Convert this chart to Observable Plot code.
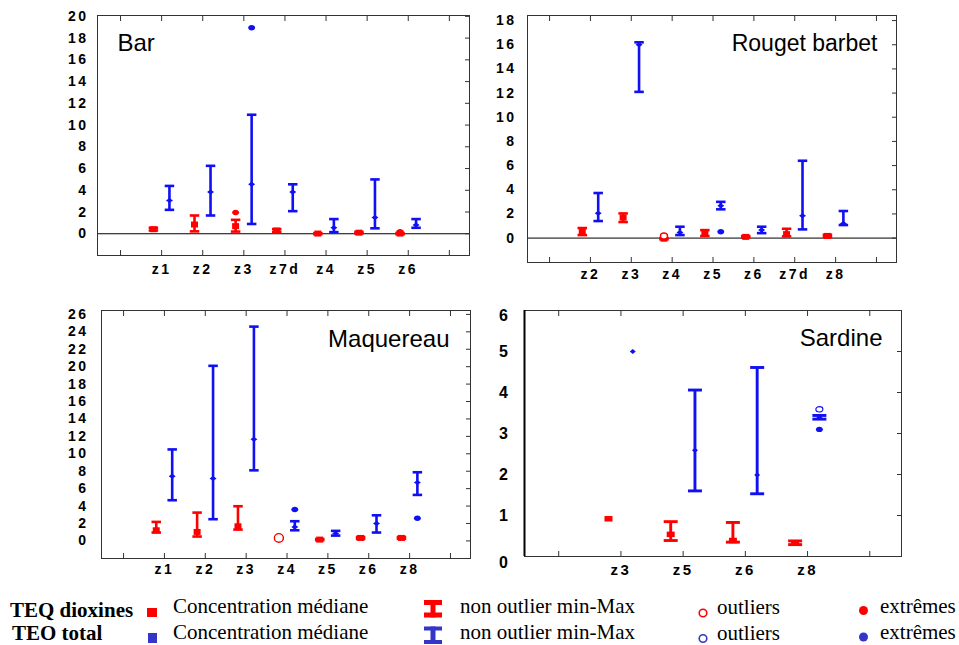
<!DOCTYPE html>
<html><head><meta charset="utf-8">
<script src="https://cdn.jsdelivr.net/npm/d3@7"></script>
<script src="https://cdn.jsdelivr.net/npm/@observablehq/plot@0.6"></script>
<style>
html,body{margin:0;padding:0;background:#fff;}
#wrap{position:relative;width:959px;height:645px;overflow:hidden;background:#fff;}
#wrap > svg{position:absolute;}
g[aria-label="x-axis tick label"] text, g[aria-label="y-axis tick label"] text{letter-spacing:2.5px;}
</style></head><body><div id="wrap"></div>
<script>
// ---------- DATA ----------
// Bar
const barZones = ["z1","z2","z3","z7d","z4","z5","z6"];
const barDioxMed = [0.42, 0.85, 0.7, 0.3, 0.02, 0.1, 0.02];
const barDioxMin = [0.3, 0.22, 0.2, 0.17, -0.04, 0.03, -0.04];
const barDioxMax = [0.55, 1.68, 1.28, 0.43, 0.06, 0.17, 0.06];
const barTotMed = [3.05, 3.85, 4.55, 3.85, 0.55, 1.5, 0.8];
const barTotMin = [2.2, 1.68, 0.9, 2.08, 0.15, 0.5, 0.55];
const barTotMax = [4.4, 6.25, 10.95, 4.55, 1.35, 5.0, 1.35];
const barDioxExtZones = ["z3","z6"], barDioxExtValues = [1.95, 0.2];
const barTotExtZones = ["z3"], barTotExtValues = [18.95];
const barYTicks = [0,2,4,6,8,10,12,14,16,18,20];

// Rouget barbet
const rbZones = ["z2","z3","z4","z5","z6","z7d","z8"];
const rbDioxMed = [0.5, 1.7, -0.05, 0.4, 0.1, 0.33, 0.18];
const rbDioxMin = [0.25, 1.33, -0.1, 0.17, 0.04, 0.14, 0.08];
const rbDioxMax = [0.83, 2.04, 0.0, 0.66, 0.17, 0.77, 0.28];
const rbTotMed = [2.05, 16.0, 0.47, 2.68, 0.66, 1.85, 1.2];
const rbTotMin = [1.41, 12.1, 0.25, 2.38, 0.41, 0.72, 1.08];
const rbTotMax = [3.73, 16.2, 0.94, 3.0, 0.94, 6.4, 2.24];
const rbDioxOutZones = ["z4"], rbDioxOutValues = [0.17];
const rbTotExtZones = ["z5"], rbTotExtValues = [0.52];
const rbYTicks = [0,2,4,6,8,10,12,14,16,18];

// Maquereau
const mqZones = ["z1","z2","z3","z4","z5","z6","z8"];
const mqDioxMed = [1.22, 1.03, 1.68, null, 0.15, 0.34, 0.34];
const mqDioxMin = [0.96, 0.5, 1.3, 0.33, 0.08, 0.22, 0.24];
const mqDioxMax = [2.18, 3.25, 3.98, 0.33, 0.22, 0.45, 0.45];
const mqTotMed = [7.42, 7.15, 11.66, 1.6, 0.84, 1.99, 6.7];
const mqTotMin = [4.67, 2.49, 8.1, 1.22, 0.61, 0.96, 5.28];
const mqTotMax = [10.5, 20.1, 24.6, 2.26, 1.15, 2.94, 7.88];
const mqDioxOutZones = ["z4"], mqDioxOutValues = [0.34];
const mqTotExtZones = ["z4","z8"], mqTotExtValues = [3.6, 2.6];
const mqYTicks = [0,2,4,6,8,10,12,14,16,18,20,22,24,26];

// Sardine
const sdZones = ["z3","z5","z6","z8"];
const sdDioxMed = [0.92, 0.54, 0.39, 0.33];
const sdDioxMin = [null, 0.39, 0.35, 0.29];
const sdDioxMax = [null, 0.85, 0.83, 0.38];
const sdTotMed = [5.0, 2.59, 1.99, 3.39];
const sdTotMin = [null, 1.6, 1.53, 3.35];
const sdTotMax = [null, 4.06, 4.61, 3.44];
const sdTotOutZones = ["z8"], sdTotOutValues = [3.59];
const sdTotExtZones = ["z8"], sdTotExtValues = [3.1];
const sdYTicks = [0,1,2,3,4,5,6];

// Legend
const legendSeries = ["TEQ dioxines", "TEO total"];
const legendItems = ["Concentration médiane", "non outlier min-Max", "outliers", "extrêmes"];

// ---------- DRAWING ----------
const RED = "#ff0000", BLUE = "#1010f2", LBLUE = "#3535c8";
const OFF_D = -0.2, OFF_T = 0.19;
const wrap = document.getElementById("wrap");

const capSym = w => ({draw(c){ c.moveTo(-w/2,0); c.lineTo(w/2,0); }});
const rectSym = (w,h) => ({draw(c){ c.moveTo(-w/2,-h/2); c.lineTo(w/2,-h/2); c.lineTo(w/2,h/2); c.lineTo(-w/2,h/2); c.closePath(); }});
const diaSym = (w,h) => ({draw(c){ c.moveTo(-w/2,0); c.lineTo(0,-h/2); c.lineTo(w/2,0); c.lineTo(0,h/2); c.closePath(); }});
const ellSym = (rx,ry) => ({draw(c){ const k=0.5523;
  c.moveTo(rx,0);
  c.bezierCurveTo(rx,ry*k,rx*k,ry,0,ry);
  c.bezierCurveTo(-rx*k,ry,-rx,ry*k,-rx,0);
  c.bezierCurveTo(-rx,-ry*k,-rx*k,-ry,0,-ry);
  c.bezierCurveTo(rx*k,-ry,rx,-ry*k,rx,0);
  c.closePath(); }});

const toRows = (zones, med, min, max, off) => zones.map((z,i) => ({x: i+1+off, med: med[i], min: min[i], max: max[i]}));
const toPts = (zones, pz, pv, off) => pz.map((z,j) => ({x: zones.indexOf(z)+1+off, v: pv[j]}));

function drawPanel(c) {
  const n = c.zones.length;
  const xTicks = d3.range(0, n+2);
  const xLabels = ["", ...c.zones, ""];
  const dRows = toRows(c.zones, c.dMed, c.dMin, c.dMax, OFF_D);
  const tRows = toRows(c.zones, c.tMed, c.tMin, c.tMax, OFF_T);
  const cap = capSym(c.capW);
  const marks = [];
  if (c.zero) marks.push(Plot.ruleY([0], {stroke:"#000", strokeWidth:1}));
  for (const [rows, color, med] of [[dRows, RED, c.sq], [tRows, BLUE, c.dia]]) {
    const w = rows.filter(d => d.min != null);
    marks.push(
      Plot.ruleX(w, {x:"x", y1:"min", y2:"max", stroke:color, strokeWidth:c.sw}),
      Plot.dot(w, {x:"x", y:"min", symbol:cap, stroke:color, strokeWidth:c.sw, fill:"none"}),
      Plot.dot(w, {x:"x", y:"max", symbol:cap, stroke:color, strokeWidth:c.sw, fill:"none"}),
      Plot.dot(rows.filter(d => d.med != null), {x:"x", y:"med", symbol:med, fill:color, stroke:"none"})
    );
  }
  const ext = ellSym(3.5, 2.7);
  const out = ellSym(c.outRx, c.outRy);
  if (c.dExt) marks.push(Plot.dot(toPts(c.zones, c.dExt[0], c.dExt[1], OFF_D), {x:"x", y:"v", symbol:ext, fill:RED, stroke:"none"}));
  if (c.tExt) marks.push(Plot.dot(toPts(c.zones, c.tExt[0], c.tExt[1], OFF_T), {x:"x", y:"v", symbol:ext, fill:BLUE, stroke:"none"}));
  if (c.dOut) marks.push(Plot.dot(toPts(c.zones, c.dOut[0], c.dOut[1], OFF_D), {x:"x", y:"v", symbol:out, fill:"white", stroke:RED, strokeWidth:1.4}));
  if (c.tOut) marks.push(Plot.dot(toPts(c.zones, c.tOut[0], c.tOut[1], OFF_T), {x:"x", y:"v", symbol:out, fill:"white", stroke:BLUE, strokeWidth:1.2}));

  marks.push(Plot.frame({stroke:"#333"}));
  if (c.thickLeft) marks.push(Plot.ruleX([c.xDomain[0]], {stroke:"#000", strokeWidth:2}));
  // inward tick marks on bottom, top, right
  marks.push(
    Plot.axisX({anchor:"bottom", ticks:xTicks, tickSize:5, dy:-5, tickFormat:() => "", stroke:"#333"}),
    Plot.axisX({anchor:"top", ticks:xTicks, tickSize:5, dy:5, tickFormat:() => "", stroke:"#333"}),
    Plot.axisY({anchor:"right", ticks:c.yTicks, tickSize:5, dx:-5, tickFormat:() => "", stroke:"#333"}),
    Plot.axisX({anchor:"bottom", ticks:xTicks, tickSize:0, tickPadding:c.xPad, tickFormat:i => xLabels[i], fontSize:c.xFont, fontWeight:"bold"})
  );
  // y tick labels (edge labels may be nudged inward as in the reference)
  const shift = c.yShift || {};
  const plain = c.yTicks.filter(t => !(t in shift));
  marks.push(Plot.axisY({anchor:"left", ticks:plain, tickSize:0, tickPadding:c.yPad, tickFormat:d => String(d), fontSize:c.yFont, fontWeight:"bold"}));
  for (const t of Object.keys(shift)) {
    marks.push(Plot.axisY({anchor:"left", ticks:[+t], tickSize:0, tickPadding:c.yPad, dy:shift[t], tickFormat:d => String(d), fontSize:c.yFont, fontWeight:"bold"}));
  }
  marks.push(
    Plot.text([c.title], {frameAnchor:c.titleAnchor, textAnchor:c.titleAnchor === "top-left" ? "start" : "end", lineAnchor:"bottom", dx:c.titleDx, dy:c.titleDy, fontSize:c.titleSize, fontWeight:"normal", fill:"#000"})
  );

  const svg = Plot.plot({
    width:c.width, height:c.height,
    marginLeft:c.m[0], marginRight:c.m[1], marginTop:c.m[2], marginBottom:c.m[3],
    x:{type:"linear", domain:c.xDomain, label:null},
    y:{type:"linear", domain:c.yDomain, label:null},
    style:{fontFamily:"'Liberation Sans', Arial, sans-serif", fontSize:"13px", color:"#000", background:"transparent", overflow:"visible"},
    marks
  });
  svg.style.left = c.left + "px";
  svg.style.top = c.top + "px";
  wrap.append(svg);
}

drawPanel({
  zones:barZones, dMed:barDioxMed, dMin:barDioxMin, dMax:barDioxMax, tMed:barTotMed, tMin:barTotMin, tMax:barTotMax,
  dExt:[barDioxExtZones, barDioxExtValues], tExt:[barTotExtZones, barTotExtValues],
  yTicks:barYTicks, xDomain:[-0.56, 8.49], yDomain:[-2.0, 20.08], zero:true,
  left:0, top:0, width:480, height:290, m:[97, 11, 15, 35],
  capW:9.5, sw:2.6, sq:rectSym(7,6), dia:diaSym(7,5), outRx:3.5, outRy:3,
  xPad:9, yPad:9, xFont:14, yFont:14,
  title:"Bar", titleAnchor:"top-left", titleDx:20, titleDy:35, titleSize:24
});
drawPanel({
  zones:rbZones, dMed:rbDioxMed, dMin:rbDioxMin, dMax:rbDioxMax, tMed:rbTotMed, tMin:rbTotMin, tMax:rbTotMax,
  dOut:[rbDioxOutZones, rbDioxOutValues], tExt:[rbTotExtZones, rbTotExtValues],
  yTicks:rbYTicks, xDomain:[-0.54, 8.49], yDomain:[-2.02, 18.42], zero:true,
  left:480, top:0, width:479, height:290, m:[47, 63, 15, 28],
  capW:9.5, sw:2.6, sq:rectSym(7,6), dia:diaSym(7,5), outRx:3.5, outRy:3,
  xPad:7, yPad:11, xFont:14, yFont:14,
  title:"Rouget barbet", titleAnchor:"top-right", titleDx:-19, titleDy:35, titleSize:23
});
drawPanel({
  zones:mqZones, dMed:mqDioxMed, dMin:mqDioxMin, dMax:mqDioxMax, tMed:mqTotMed, tMin:mqTotMin, tMax:mqTotMax,
  dOut:[mqDioxOutZones, mqDioxOutValues], tExt:[mqTotExtZones, mqTotExtValues],
  yTicks:mqYTicks, xDomain:[-0.54, 8.49], yDomain:[-2.02, 26.45], zero:false,
  left:0, top:290, width:480, height:300, m:[101, 10, 20, 32],
  capW:9.5, sw:2.6, sq:rectSym(7,6), dia:diaSym(7,5), outRx:4.5, outRy:4.3,
  xPad:6, yPad:13, xFont:14, yFont:14,
  title:"Maquereau", titleAnchor:"top-right", titleDx:-21, titleDy:36.7, titleSize:24
});
drawPanel({
  zones:sdZones, dMed:sdDioxMed, dMin:sdDioxMin, dMax:sdDioxMax, tMed:sdTotMed, tMin:sdTotMin, tMax:sdTotMax,
  tOut:[sdTotOutZones, sdTotOutValues], tExt:[sdTotExtZones, sdTotExtValues],
  yTicks:sdYTicks, xDomain:[-0.55, 5.51], yDomain:[0, 6], zero:false, thickLeft:true, yShift:{0:6, 6:5},
  left:480, top:290, width:479, height:300, m:[44, 58, 20, 34],
  capW:14, sw:2.9, sq:rectSym(8,5.5), dia:diaSym(6,5), outRx:3.5, outRy:2.7,
  xPad:8, yPad:14, xFont:15, yFont:16,
  title:"Sardine", titleAnchor:"top-right", titleDx:-19, titleDy:35.7, titleSize:24
});

// ---------- LEGEND ----------
const Y0 = 585;
const leg = d3.create("svg").attr("width", 959).attr("height", 60)
  .style("left", "0px").style("top", Y0 + "px")
  .attr("font-family", "'Liberation Serif', 'Times New Roman', serif").attr("font-size", 21);
const rowBase = [[617, 613, 613.3, 614, 613.3], [640, 638.5, 639.3, 640, 639.3]];
const rowColor = [RED, LBLUE];
legendSeries.forEach((s, r) => {
  const b = rowBase[r], col = rowColor[r];
  leg.append("text").attr("x", r === 0 ? 10 : 12).attr("y", b[0] - Y0).attr("font-weight", "bold").text(s);
  leg.append("rect").attr("x", r === 0 ? 147 : 148).attr("y", (r === 0 ? 608 : 633) - Y0).attr("width", r === 0 ? 10 : 9).attr("height", r === 0 ? 9 : 10).attr("fill", col);
  leg.append("text").attr("x", 173).attr("y", b[1] - Y0).text(legendItems[0]);
  const iy = r === 0 ? 600 : 626.5, ih = 17.5, bar = r === 0 ? 5 : 4;
  leg.append("rect").attr("x", 424).attr("y", iy - Y0).attr("width", 18).attr("height", bar).attr("fill", col);
  leg.append("rect").attr("x", 430.5).attr("y", iy - Y0).attr("width", 5).attr("height", ih).attr("fill", col);
  leg.append("rect").attr("x", 424).attr("y", iy + ih - bar - Y0).attr("width", 18).attr("height", bar).attr("fill", col);
  leg.append("text").attr("x", 460).attr("y", b[2] - Y0).text(legendItems[1]);
  leg.append("circle").attr("cx", 703).attr("cy", (r === 0 ? 613 : 638.5) - Y0).attr("r", 3.8).attr("fill", "none").attr("stroke", col).attr("stroke-width", 1.6);
  leg.append("text").attr("x", 717).attr("y", b[3] - Y0).text(legendItems[2]);
  leg.append("circle").attr("cx", 863.5).attr("cy", (r === 0 ? 610.5 : 637) - Y0).attr("r", 4.5).attr("fill", col);
  leg.append("text").attr("x", 880).attr("y", b[4] - Y0).text(legendItems[3]);
});
wrap.append(leg.node());
</script></body></html>
